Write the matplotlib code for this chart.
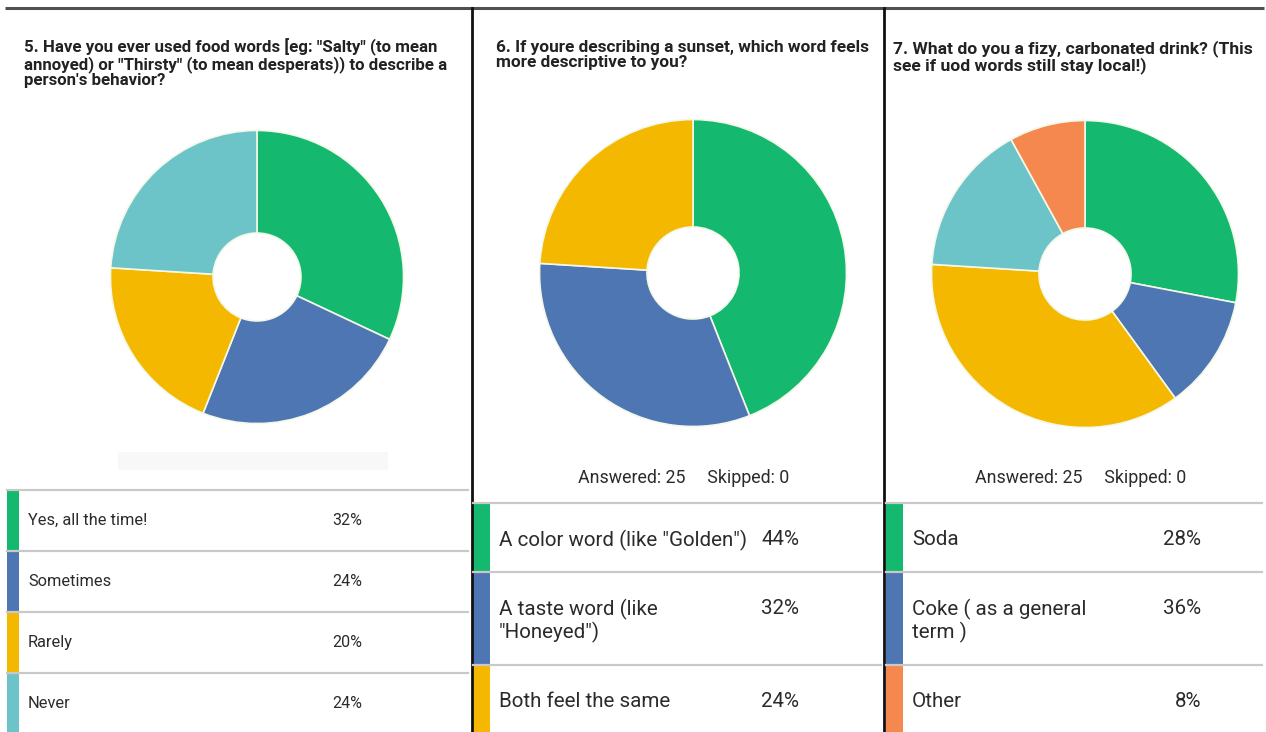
import matplotlib
matplotlib.use("Agg")
import matplotlib.pyplot as plt
from matplotlib.patches import Rectangle

W, H = 1266, 732

# ---------------- data ----------------
q5_title = '5. Have you ever used food words [eg: "Salty" (to mean\nannoyed) or "Thirsty" (to mean desperats)) to describe a\nperson\'s behavior?'
q5_labels = ["Yes, all the time!", "Sometimes", "Rarely", "Never"]
q5_values = [32, 24, 20, 24]

q6_title = "6. If youre describing a sunset, which word feels\nmore descriptive to you?"
q6_labels = ['A color word (like "Golden")', 'A taste word (like\n"Honeyed")', "Both feel the same"]
q6_values = [44, 32, 24]

q7_title = "7. What do you a fizy, carbonated drink? (This\nsee if uod words still stay local!)"
q7_pie_values = [28, 12, 36, 16, 8]
q7_table_labels = ["Soda", "Coke ( as a general\nterm )", "Other"]
q7_table_values = [28, 36, 8]

answered = 25
skipped = 0

GREEN, BLUE, YELLOW, TEAL, ORANGE = "#14b86e", "#4e76b3", "#f4b800", "#6cc4c9", "#f5884f"
q5_colors = [GREEN, BLUE, YELLOW, TEAL]
q6_colors = [GREEN, BLUE, YELLOW]
q7_pie_colors = [GREEN, BLUE, YELLOW, TEAL, ORANGE]
q7_table_colors = [GREEN, BLUE, ORANGE]

FONT = ["Roboto", "DejaVu Sans"]
plt.rcParams["font.family"] = FONT

fig = plt.figure(figsize=(W / 100, H / 100), dpi=100)
fig.patch.set_facecolor("white")
bg = fig.add_axes([0, 0, 1, 1])
bg.set_xlim(0, W)
bg.set_ylim(H, 0)
bg.axis("off")

TXT = "#2b2b2b"
SEP = "#c9c9c9"

# frame lines
bg.plot([5, 1264], [8, 8], color="#505050", lw=2.2, solid_capstyle="butt")
for x in (472, 884):
    bg.plot([x, x], [8, H], color="#111111", lw=2.0)

# titles
bg.text(24, 38, q5_title, ha="left", va="top", fontsize=12.2, fontweight="bold",
        color="#222222", linespacing=1.03)
bg.text(496, 40, q6_title, ha="left", va="top", fontsize=12.4, fontweight="bold",
        color="#222222", linespacing=1.03)
bg.text(893, 40, q7_title, ha="left", va="top", fontsize=12.6, fontweight="bold",
        color="#222222", linespacing=1.03)

# faint shadow under first pie
bg.add_patch(Rectangle((118, 452), 270, 18, color="#f8f8f8", lw=0))


def donut(cx, cy, r, values, colors):
    ax = fig.add_axes([(cx - r) / W, 1 - (cy + r) / H, 2 * r / W, 2 * r / H])
    ax.pie(values, colors=colors, startangle=90, counterclock=False, radius=1,
           wedgeprops=dict(width=0.7, edgecolor="#f4f8e8", linewidth=1.2))
    ax.set_xlim(-1.01, 1.01)
    ax.set_ylim(-1.01, 1.01)
    ax.axis("off")


donut(257, 277, 148, q5_values, q5_colors)
donut(693, 273, 155, q6_values, q6_colors)
donut(1085, 274, 155, q7_pie_values, q7_pie_colors)

# panel 1 table
rows1 = [490, 551, 612, 673, 735]
for i, (lab, val, col) in enumerate(zip(q5_labels, q5_values, q5_colors)):
    y0, y1 = rows1[i], rows1[i + 1]
    bg.add_patch(Rectangle((7, y0), 12, y1 - y0, color=col, lw=0))
    bg.text(28, (y0 + y1) / 2, lab, ha="left", va="center", fontsize=11.8, color=TXT)
    bg.text(362, (y0 + y1) / 2, f"{val}%", ha="right", va="center", fontsize=11.5, color=TXT)
for y in rows1[:-1]:
    bg.plot([7, 468], [y, y], color=SEP, lw=1.6)


def table(x0, x1, pct_x, labels, values, colors, center_x):
    bg.text(center_x, 478, f"Answered: {answered}     Skipped: {skipped}", ha="center",
            va="center", fontsize=12.8, color=TXT)
    rows = [503, 572, 665, 735]
    for i, (lab, val, col) in enumerate(zip(labels, values, colors)):
        y0, y1 = rows[i], rows[i + 1]
        bg.add_patch(Rectangle((x0, y0), 17, y1 - y0, color=col, lw=0))
        bg.text(x0 + 26, y0 + 27, lab, ha="left", va="top", fontsize=14.8, color=TXT,
                linespacing=1.12)
        bg.text(pct_x, y0 + 27, f"{val}%", ha="right", va="top", fontsize=14.8, color=TXT)
    for y in rows[:-1]:
        bg.plot([x0, x1], [y, y], color=SEP, lw=1.6)


table(473, 881, 799, q6_labels, q6_values, q6_colors, 684)
table(886, 1262, 1201, q7_table_labels, q7_table_values, q7_table_colors, 1081)

fig.savefig("out.png", dpi=100, facecolor="white")
